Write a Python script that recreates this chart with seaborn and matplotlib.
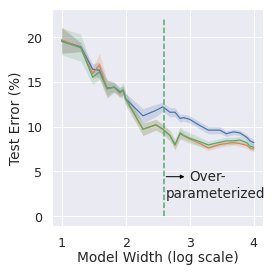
import numpy as np
import pandas as pd
import matplotlib
matplotlib.use("Agg")
import matplotlib.pyplot as plt
import seaborn as sns

sns.set_theme(style="darkgrid", context="notebook", font_scale=1.15)

# model width (log scale) positions
width = [1.0, 1.30, 1.485, 1.59, 1.71, 1.82, 1.91, 1.96, 2.0, 2.27, 2.47, 2.58, 2.69,
         2.77, 2.85, 2.9, 3.0, 3.16, 3.29, 3.47, 3.57, 3.68, 3.78, 3.89, 3.94, 4.0]

# test error (%) of the three runs
err_blue = [19.6, 18.9, 16.4, 16.3, 14.3, 14.4, 13.9, 14.0, 13.1, 11.2, 11.8, 12.2, 11.6,
            11.6, 10.9, 11.0, 10.8, 10.1, 9.6, 9.6, 9.2, 9.4, 9.3, 8.8, 8.4, 8.2]
err_orange = [19.7, 18.8, 15.9, 16.9, 14.2, 14.4, 13.7, 14.0, 13.1, 9.7, 10.2, 9.7, 9.0,
              7.9, 9.2, 9.0, 8.6, 8.1, 7.6, 8.0, 8.1, 8.2, 8.1, 7.9, 7.6, 7.5]
err_green = [19.5, 18.8, 15.5, 16.1, 14.2, 14.4, 13.8, 14.1, 13.1, 9.7, 10.2, 9.7, 9.0,
             8.0, 9.3, 9.0, 8.7, 8.3, 7.95, 8.25, 8.4, 8.4, 8.5, 8.2, 7.8, 7.7]

# half-width of the shaded bands
band_blue = [1.4, 0.5, 0.6, 0.9, 0.8, 0.5, 0.5, 0.5, 0.6, 0.8, 0.7, 0.5, 0.5,
             0.5, 0.4, 0.4, 0.4, 0.4, 0.4, 0.4, 0.3, 0.3, 0.3, 0.3, 0.4, 0.4]
band_orange = [1.5, 0.5, 0.6, 1.3, 1.0, 0.5, 0.5, 0.5, 0.6, 0.7, 0.6, 0.5, 0.5,
               0.4, 0.5, 0.4, 0.3, 0.3, 0.3, 0.3, 0.3, 0.3, 0.3, 0.3, 0.3, 0.3]
band_green = [1.5, 1.5, 0.8, 0.8, 1.0, 0.6, 0.5, 0.9, 0.7, 0.7, 0.6, 0.6, 0.6,
              0.6, 0.7, 0.6, 0.6, 0.5, 0.4, 0.4, 0.4, 0.4, 0.4, 0.4, 0.4, 0.4]

threshold = 2.6

palette = sns.color_palette("deep")

fig, ax = plt.subplots(figsize=(3.8, 3.8), dpi=72)
fig.subplots_adjust(left=0.19, right=0.963, top=0.964, bottom=0.172)

series = [(err_blue, band_blue), (err_orange, band_orange), (err_green, band_green)]
for i, (vals, band) in enumerate(series):
    df = pd.DataFrame({"x": width, "y": vals})
    sns.lineplot(data=df, x="x", y="y", color=palette[i], lw=1.2, ax=ax)
    lo = np.array(vals) - np.array(band)
    hi = np.array(vals) + np.array(band)
    ax.fill_between(width, lo, hi, color=palette[i], alpha=0.2, lw=0)

ax.vlines(threshold, 0, 22, colors=palette[2], linestyles="--", lw=1.5)
ax.annotate("", xy=(2.95, 4.4), xytext=(threshold, 4.4),
            arrowprops=dict(arrowstyle="-|>", color="black", lw=1, mutation_scale=8))
ax.text(2.985, 4.4, "Over-", ha="left", va="center", fontsize=13.5, color="#262626")
ax.text(2.62, 2.55, "parameterized", ha="left", va="center", fontsize=13.5, color="#262626")

ax.set_xticks([1, 2, 3, 4])
ax.set_yticks([0, 5, 10, 15, 20])
ax.tick_params(axis="x", pad=4)
ax.set_xlabel("Model Width (log scale)", labelpad=1)
ax.set_ylabel("Test Error (%)")

fig.savefig("out.png", dpi=72)
